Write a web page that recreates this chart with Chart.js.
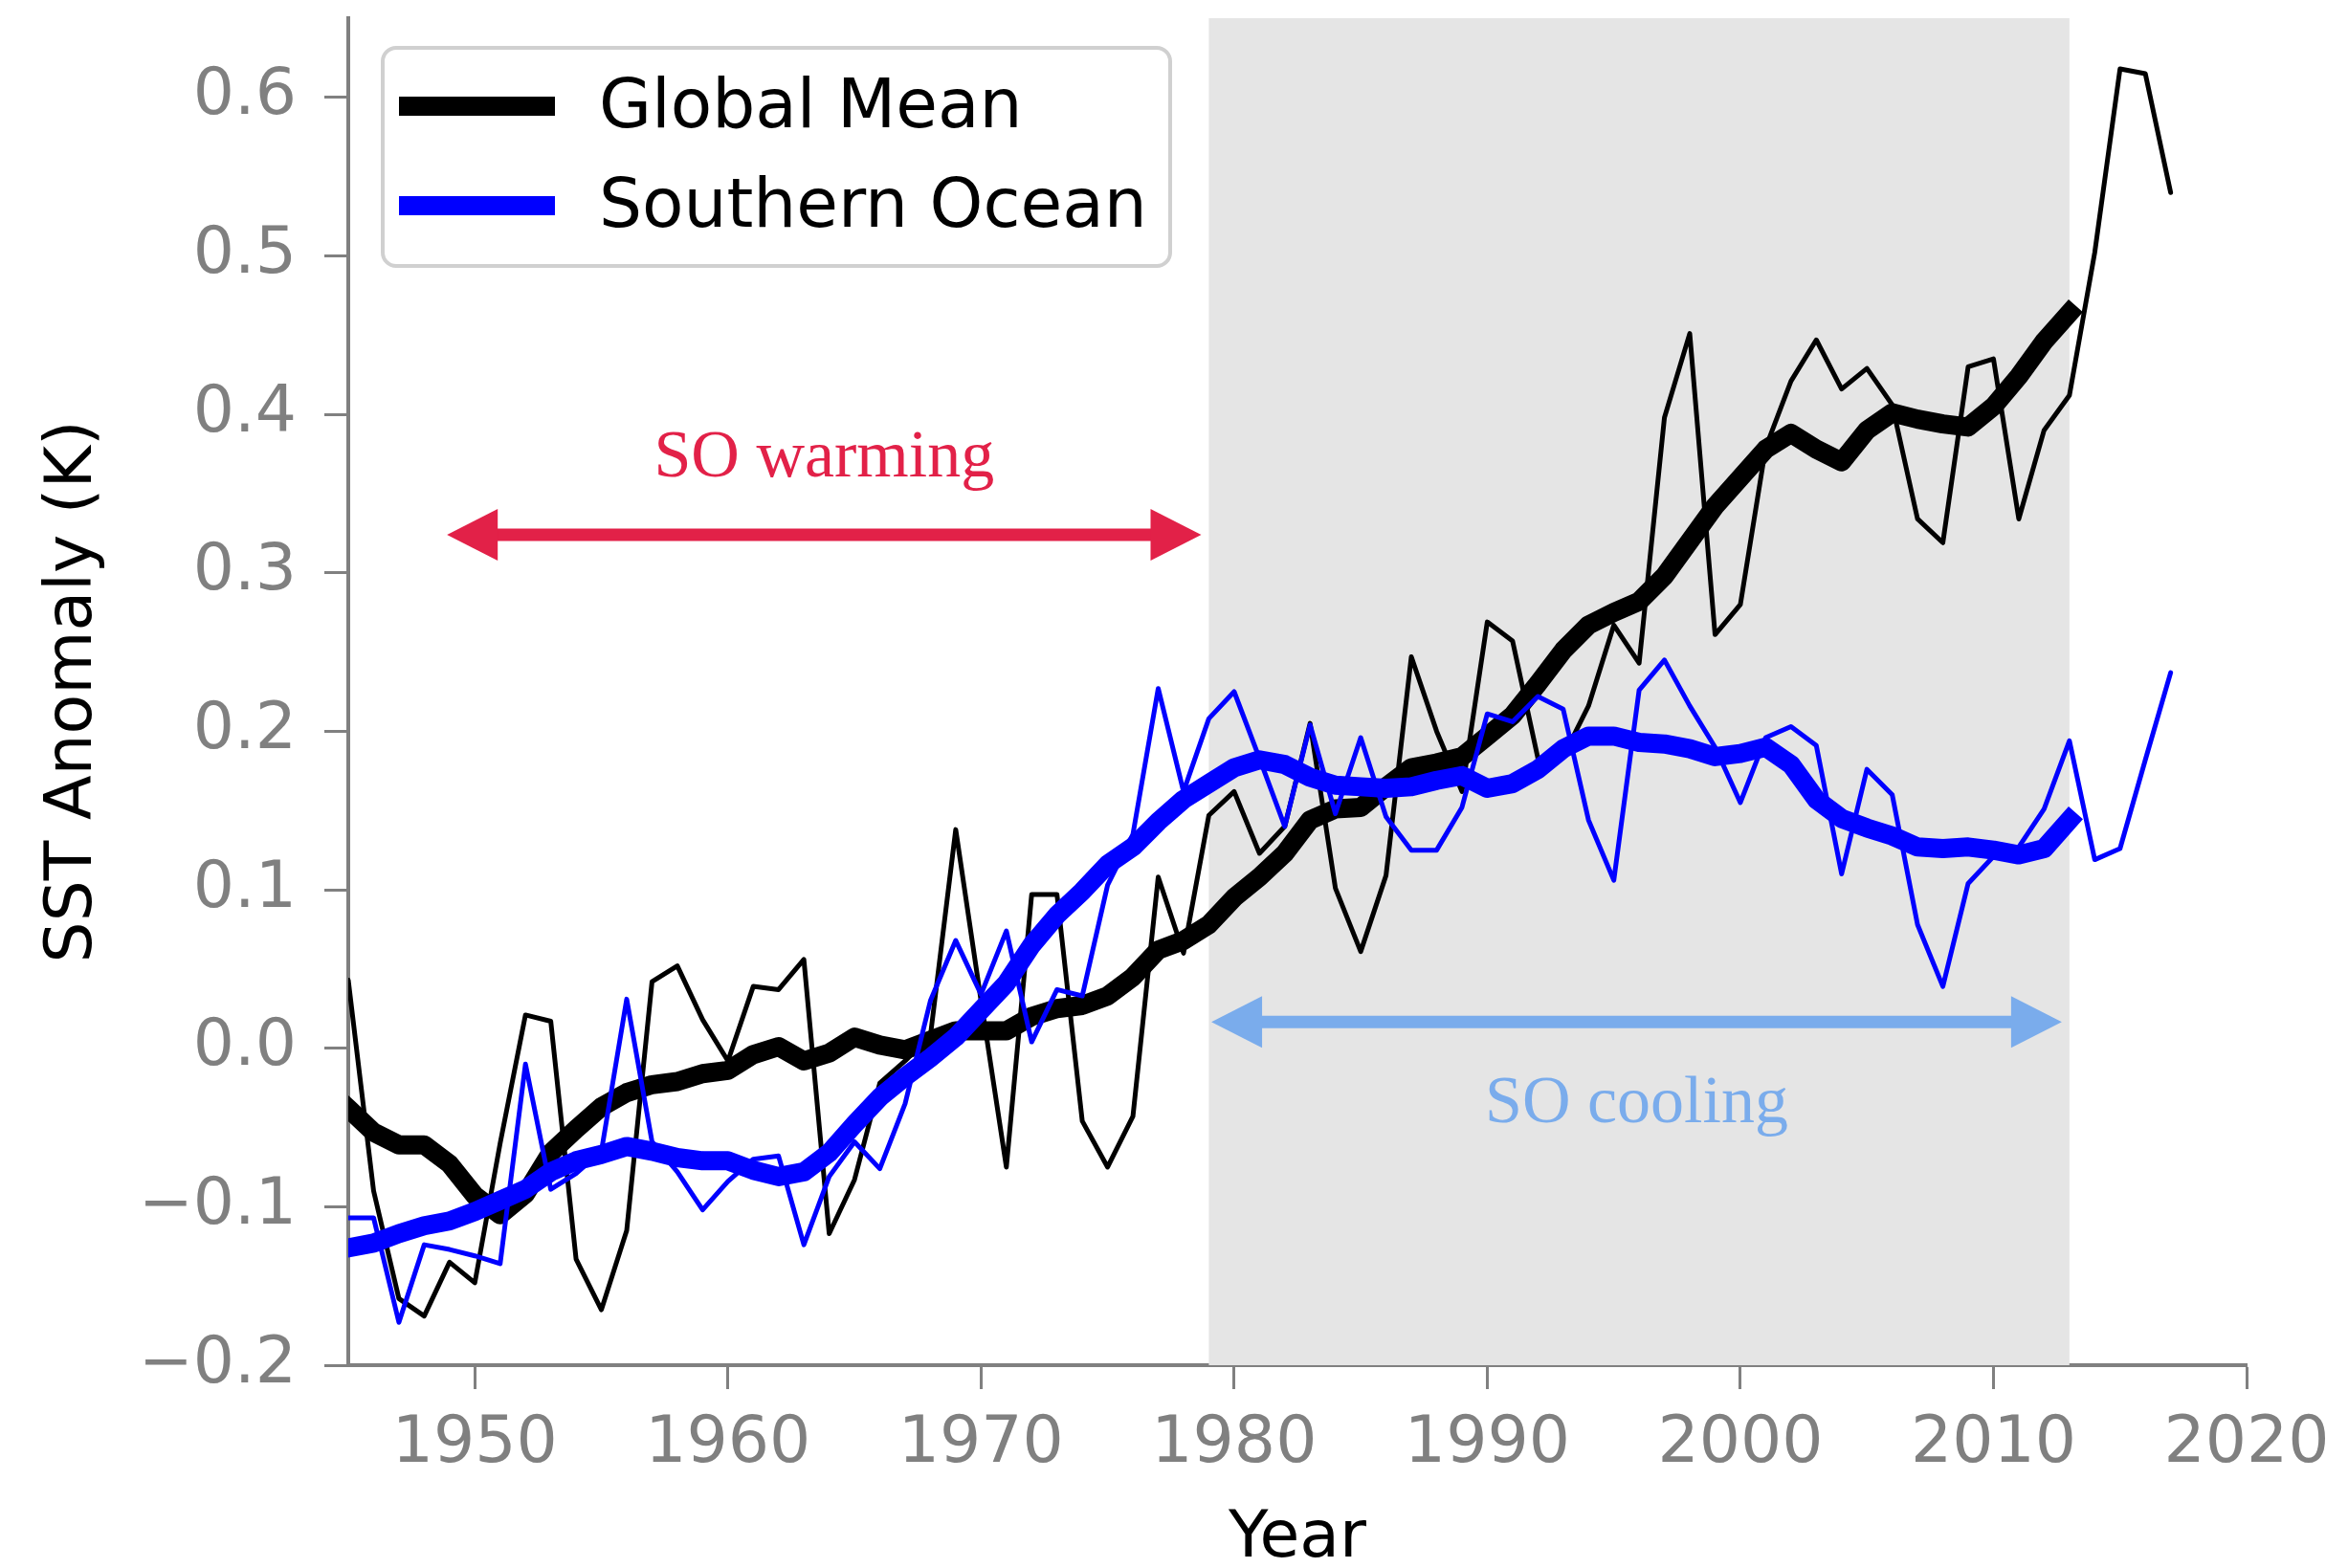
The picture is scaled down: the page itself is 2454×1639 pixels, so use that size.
<!DOCTYPE html>
<html>
<head>
<meta charset="utf-8">
<title>SST Anomaly</title>
<script src="https://cdn.jsdelivr.net/npm/chart.js@4.4.1/dist/chart.umd.min.js"></script>
<style>
  html, body { margin: 0; padding: 0; background: #fff; }
  #wrap { width: 2454px; height: 1639px; position: relative; }
</style>
</head>
<body>
<div id="wrap"><canvas id="sstChart"></canvas></div>
<script>
const years = [
    1945, 1946, 1947, 1948, 1949, 1950, 1951, 1952, 1953, 1954,
    1955, 1956, 1957, 1958, 1959, 1960, 1961, 1962, 1963, 1964,
    1965, 1966, 1967, 1968, 1969, 1970, 1971, 1972, 1973, 1974,
    1975, 1976, 1977, 1978, 1979, 1980, 1981, 1982, 1983, 1984,
    1985, 1986, 1987, 1988, 1989, 1990, 1991, 1992, 1993, 1994,
    1995, 1996, 1997, 1998, 1999, 2000, 2001, 2002, 2003, 2004,
    2005, 2006, 2007, 2008, 2009, 2010, 2011, 2012, 2013, 2014,
    2015, 2016, 2017
];

// annual global mean SST anomaly (K)
const globalAnnual = [
    0.043, -0.090, -0.158, -0.169, -0.135, -0.148, -0.060, 0.021, 0.017, -0.133,
    -0.165, -0.115, 0.042, 0.052, 0.018, -0.008, 0.039, 0.037, 0.056, -0.117,
    -0.083, -0.022, -0.008, 0.008, 0.138, 0.030, -0.075, 0.097, 0.097, -0.046,
    -0.075, -0.043, 0.108, 0.060, 0.147, 0.162, 0.123, 0.140, 0.205, 0.101,
    0.061, 0.109, 0.247, 0.200, 0.162, 0.269, 0.257, 0.183, 0.184, 0.216,
    0.267, 0.243, 0.398, 0.451, 0.261, 0.280, 0.379, 0.421, 0.447, 0.416,
    0.429, 0.406, 0.334, 0.319, 0.430, 0.435, 0.334, 0.390, 0.412, 0.502,
    0.618, 0.615, 0.540
];

// smoothed global mean, 1945-2013
const globalSmooth = [
    -0.038, -0.053, -0.061, -0.061, -0.073, -0.093, -0.105, -0.092, -0.066, -0.051,
    -0.037, -0.028, -0.023, -0.021, -0.016, -0.014, -0.004, 0.001, -0.008, -0.003,
    0.007, 0.002, -0.001, 0.005, 0.011, 0.011, 0.011, 0.020, 0.025, 0.027,
    0.033, 0.045, 0.062, 0.068, 0.078, 0.095, 0.108, 0.123, 0.144, 0.151,
    0.152, 0.165, 0.177, 0.180, 0.184, 0.197, 0.210, 0.230, 0.251, 0.267,
    0.275, 0.282, 0.298, 0.320, 0.342, 0.360, 0.378, 0.388, 0.378, 0.370,
    0.390, 0.401, 0.397, 0.394, 0.392, 0.405, 0.424, 0.446, 0.464
];

// annual Southern Ocean SST anomaly (K)
const southernAnnual = [
    -0.107, -0.107, -0.173, -0.124, -0.127, -0.131, -0.136, -0.010, -0.089, -0.079,
    -0.065, 0.031, -0.059, -0.078, -0.102, -0.084, -0.070, -0.068, -0.124, -0.081,
    -0.059, -0.076, -0.035, 0.030, 0.068, 0.034, 0.074, 0.004, 0.037, 0.033,
    0.103, 0.135, 0.227, 0.162, 0.208, 0.225, 0.183, 0.140, 0.204, 0.148,
    0.196, 0.146, 0.125, 0.125, 0.152, 0.211, 0.206, 0.222, 0.214, 0.144,
    0.106, 0.226, 0.245, 0.216, 0.190, 0.155, 0.196, 0.203, 0.191, 0.110,
    0.176, 0.160, 0.078, 0.039, 0.104, 0.121, 0.127, 0.151, 0.194, 0.119,
    0.126, 0.182, 0.237
];

// smoothed Southern Ocean, 1945-2013
const southernSmooth = [
    -0.126, -0.123, -0.117, -0.112, -0.109, -0.103, -0.096, -0.089, -0.078, -0.071,
    -0.067, -0.062, -0.065, -0.069, -0.071, -0.071, -0.077, -0.081, -0.078, -0.066,
    -0.048, -0.031, -0.018, -0.006, 0.007, 0.024, 0.041, 0.065, 0.084, 0.099,
    0.116, 0.127, 0.143, 0.157, 0.167, 0.177, 0.182, 0.179, 0.171, 0.166,
    0.165, 0.164, 0.165, 0.169, 0.172, 0.164, 0.167, 0.176, 0.189, 0.197,
    0.197, 0.193, 0.192, 0.189, 0.184, 0.186, 0.190, 0.179, 0.157, 0.145,
    0.139, 0.134, 0.127, 0.126, 0.127, 0.125, 0.122, 0.126, 0.144
];

const xTickValues = [1950, 1960, 1970, 1980, 1990, 2000, 2010, 2020];
const yTickValues = [-0.2, -0.1, 0.0, 0.1, 0.2, 0.3, 0.4, 0.5, 0.6];
const shadedPeriod = [1979, 2013];

const GRAY = '#808080';
const RED = '#e22148';
const LIGHT_BLUE = '#7aacec';

Chart.defaults.font.family = '"DejaVu Sans", sans-serif';

function toPoints(values) {
    return values.map((v, i) => ({ x: years[i], y: v }));
}

function formatY(value) {
    const sign = value < -1e-9 ? '\u2212' : '';
    return sign + Math.abs(value).toFixed(1);
}

// grey box behind the SO cooling period
const shadingPlugin = {
    id: 'shading',
    beforeDatasetsDraw(chart) {
        const { ctx, chartArea, scales } = chart;
        const x1 = scales.x.getPixelForValue(shadedPeriod[0]);
        const x2 = scales.x.getPixelForValue(shadedPeriod[1]);
        ctx.save();
        ctx.fillStyle = '#e5e5e5';
        ctx.fillRect(x1, chartArea.top, x2 - x1, chartArea.bottom - chartArea.top);
        ctx.restore();
    }
};

function drawDoubleArrow(ctx, x1, x2, y, color) {
    const head = 53;
    const half = 27;
    ctx.save();
    ctx.fillStyle = color;
    ctx.strokeStyle = color;
    ctx.lineWidth = 13;
    ctx.beginPath();
    ctx.moveTo(x1 + head - 2, y);
    ctx.lineTo(x2 - head + 2, y);
    ctx.stroke();
    ctx.beginPath();
    ctx.moveTo(x1, y);
    ctx.lineTo(x1 + head, y - half);
    ctx.lineTo(x1 + head, y + half);
    ctx.closePath();
    ctx.fill();
    ctx.beginPath();
    ctx.moveTo(x2, y);
    ctx.lineTo(x2 - head, y - half);
    ctx.lineTo(x2 - head, y + half);
    ctx.closePath();
    ctx.fill();
    ctx.restore();
}

const annotations = [
    { text: 'SO warming', from: 1948.9, to: 1978.7, arrowY: 0.324, textX: 1963.8, textY: 0.361, color: RED },
    { text: 'SO cooling', from: 1979.1, to: 2012.7, arrowY: 0.0166, textX: 1995.9, textY: -0.0465, color: LIGHT_BLUE }
];

const annotationPlugin = {
    id: 'periodArrows',
    afterDatasetsDraw(chart) {
        const { ctx, scales } = chart;
        annotations.forEach(a => {
            const y = scales.y.getPixelForValue(a.arrowY);
            drawDoubleArrow(ctx, scales.x.getPixelForValue(a.from), scales.x.getPixelForValue(a.to), y, a.color);
            ctx.save();
            ctx.fillStyle = a.color;
            ctx.font = '70px "Liberation Serif", serif';
            ctx.textAlign = 'center';
            ctx.textBaseline = 'alphabetic';
            ctx.fillText(a.text, scales.x.getPixelForValue(a.textX), scales.y.getPixelForValue(a.textY));
            ctx.restore();
        });
    }
};

// matplotlib style framed legend in the upper left corner
const boxLegendPlugin = {
    id: 'boxLegend',
    afterDatasetsDraw(chart) {
        const { ctx, chartArea } = chart;
        const entries = chart.data.datasets
            .filter(ds => ds.legendRank !== undefined)
            .sort((a, b) => a.legendRank - b.legendRank);
        const left = chartArea.left + 36;
        const top = chartArea.top + 31;
        const width = 823;
        const height = 228;

        ctx.save();
        ctx.beginPath();
        ctx.roundRect(left, top, width, height, 14);
        ctx.fillStyle = 'rgba(255,255,255,0.85)';
        ctx.fill();
        ctx.lineWidth = 4;
        ctx.strokeStyle = '#d0d0d0';
        ctx.stroke();

        entries.forEach((ds, i) => {
            const y = top + 61 + i * 104;
            ctx.beginPath();
            ctx.moveTo(left + 17, y);
            ctx.lineTo(left + 180, y);
            ctx.lineWidth = 20;
            ctx.lineCap = 'butt';
            ctx.strokeStyle = ds.borderColor;
            ctx.stroke();

            ctx.fillStyle = '#000';
            ctx.font = '71px "DejaVu Sans", sans-serif';
            ctx.textAlign = 'left';
            ctx.textBaseline = 'middle';
            ctx.fillText(ds.label, left + 226, y + 4);
        });
        ctx.restore();
    }
};

function lineDataset(label, values, color, width, order, legendRank) {
    return {
        label: label,
        data: toPoints(values),
        borderColor: color,
        backgroundColor: color,
        borderWidth: width,
        pointRadius: 0,
        tension: 0,
        borderJoinStyle: 'round',
        borderCapStyle: legendRank !== undefined ? 'square' : 'round',
        fill: false,
        order: order,
        legendRank: legendRank
    };
}

function buildChart() {
    const ctx = document.getElementById('sstChart').getContext('2d');

    const config = {
        type: 'line',
        data: {
            datasets: [
                lineDataset('Southern Ocean', southernSmooth, '#0000ff', 20, 0, 1),
                lineDataset('Southern Ocean annual', southernAnnual, '#0000ff', 5, 1),
                lineDataset('Global Mean', globalSmooth, '#000000', 20, 2, 0),
                lineDataset('Global Mean annual', globalAnnual, '#000000', 5, 3)
            ]
        },
        options: {
            responsive: true,
            maintainAspectRatio: false,
            devicePixelRatio: 1,
            animation: false,
            layout: { padding: { left: 0, right: 106, top: 19, bottom: 0 } },
            plugins: {
                legend: { display: false },
                tooltip: { enabled: false }
            },
            scales: {
                x: {
                    type: 'linear',
                    min: 1945,
                    max: 2020,
                    afterBuildTicks: scale => {
                        scale.ticks = xTickValues.map(v => ({ value: v }));
                    },
                    afterFit: scale => {
                        scale.height = 212;
                        scale.paddingLeft = 0;
                        scale.paddingRight = 0;
                    },
                    ticks: {
                        color: GRAY,
                        font: { size: 68, lineHeight: 1 },
                        padding: 24,
                        maxRotation: 0,
                        autoSkip: false,
                        callback: v => String(v)
                    },
                    grid: {
                        display: true,
                        drawOnChartArea: false,
                        drawTicks: true,
                        tickLength: 25,
                        tickWidth: 3,
                        tickColor: GRAY
                    },
                    border: { display: true, color: GRAY, width: 4 },
                    title: {
                        display: true,
                        text: 'Year',
                        color: '#000',
                        font: { size: 68, lineHeight: 1 },
                        padding: { top: 0, bottom: -4 }
                    }
                },
                y: {
                    type: 'linear',
                    min: -0.2,
                    max: 0.65,
                    afterBuildTicks: scale => {
                        scale.ticks = yTickValues.map(v => ({ value: v }));
                    },
                    afterFit: scale => {
                        scale.width = 364;
                        scale.paddingTop = 0;
                        scale.paddingBottom = 0;
                    },
                    ticks: {
                        color: GRAY,
                        font: { size: 68, lineHeight: 1 },
                        padding: 29,
                        autoSkip: false,
                        callback: v => formatY(v)
                    },
                    grid: {
                        display: true,
                        drawOnChartArea: false,
                        drawTicks: true,
                        tickLength: 25,
                        tickWidth: 3,
                        tickColor: GRAY
                    },
                    border: { display: true, color: GRAY, width: 4 },
                    title: {
                        display: true,
                        text: 'SST Anomaly (K)',
                        color: '#000',
                        font: { size: 68, lineHeight: 1 },
                        padding: { top: 43, bottom: 0 }
                    }
                }
            }
        },
        plugins: [shadingPlugin, annotationPlugin, boxLegendPlugin]
    };

    new Chart(ctx, config);
}

buildChart();
</script>
</body>
</html>
